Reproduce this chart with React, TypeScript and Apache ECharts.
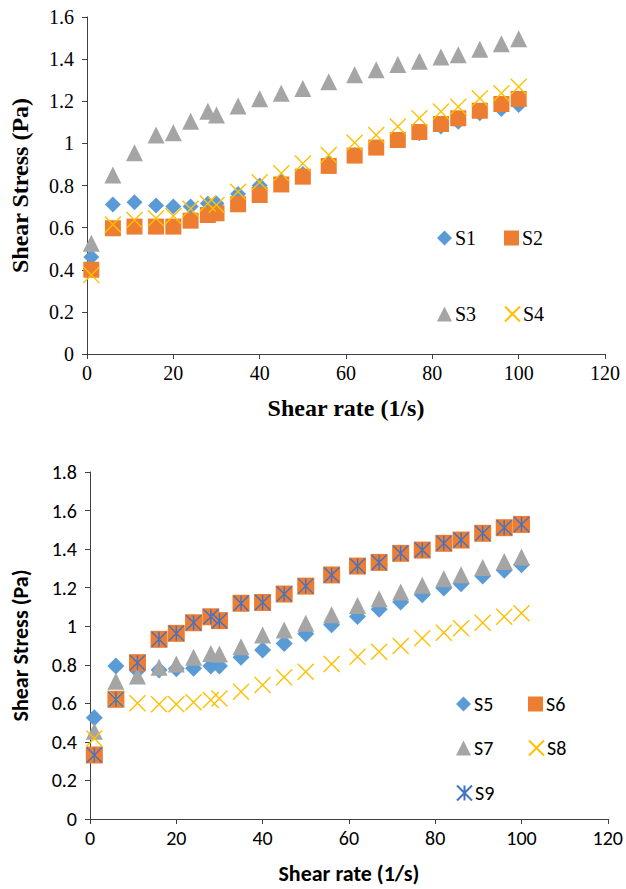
import React, { useEffect, useRef } from "react";
import * as echarts from "echarts";

const shearRate = [1, 6, 11, 16, 20, 24, 28, 30, 35, 40, 45, 50, 56, 62, 67, 72, 77, 82, 86, 91, 96, 100];

const s1 = [0.46, 0.71, 0.72, 0.705, 0.7, 0.7, 0.715, 0.715, 0.76, 0.8, 0.82, 0.855, 0.905, 0.945, 0.98, 1.015, 1.048, 1.08, 1.103, 1.143, 1.163, 1.182];
const s2 = [0.4, 0.597, 0.605, 0.605, 0.605, 0.633, 0.66, 0.668, 0.711, 0.755, 0.805, 0.842, 0.893, 0.942, 0.98, 1.016, 1.054, 1.092, 1.119, 1.155, 1.187, 1.211];
const s3 = [0.526, 0.85, 0.956, 1.04, 1.05, 1.105, 1.152, 1.135, 1.178, 1.212, 1.238, 1.26, 1.293, 1.326, 1.349, 1.374, 1.39, 1.41, 1.421, 1.447, 1.473, 1.497];
const s4 = [0.375, 0.615, 0.636, 0.644, 0.655, 0.69, 0.715, 0.707, 0.77, 0.815, 0.858, 0.905, 0.945, 1.003, 1.04, 1.08, 1.119, 1.151, 1.174, 1.214, 1.238, 1.269];

const s5 = [0.525, 0.794, 0.77, 0.773, 0.78, 0.782, 0.794, 0.794, 0.839, 0.877, 0.911, 0.961, 1.008, 1.051, 1.088, 1.126, 1.163, 1.198, 1.22, 1.26, 1.29, 1.319];
const s6 = [0.332, 0.621, 0.811, 0.932, 0.963, 1.018, 1.049, 1.029, 1.119, 1.123, 1.167, 1.208, 1.266, 1.312, 1.331, 1.378, 1.395, 1.43, 1.447, 1.482, 1.511, 1.528];
const s7 = [0.455, 0.714, 0.742, 0.787, 0.804, 0.839, 0.858, 0.856, 0.894, 0.954, 0.98, 1.015, 1.06, 1.108, 1.143, 1.177, 1.212, 1.246, 1.267, 1.305, 1.336, 1.359];
const s8 = [0.418, 0.625, 0.6, 0.595, 0.595, 0.605, 0.617, 0.625, 0.66, 0.695, 0.735, 0.764, 0.804, 0.842, 0.868, 0.897, 0.937, 0.966, 0.989, 1.018, 1.049, 1.067];
const s9 = [0.332, 0.621, 0.811, 0.932, 0.963, 1.018, 1.049, 1.029, 1.119, 1.123, 1.167, 1.208, 1.266, 1.312, 1.331, 1.378, 1.395, 1.43, 1.447, 1.482, 1.511, 1.528];

const xTitle = "Shear rate (1/s)";
const yTitle = "Shear Stress (Pa)";

const X_PATH = "path://M0,0L10,10M10,0L0,10";
const STAR_PATH = "path://M0,0L10,10M10,0L0,10M5,0L5,10";

const pair = (vals: number[]) => shearRate.map((x, i) => [x, vals[i]]);

export default function App() {
  const ref = useRef<HTMLDivElement>(null);
  useEffect(() => {
    const chart = echarts.init(ref.current!, null, { renderer: "svg" });
    const serif = "Times New Roman";
    const sans = "Carlito";
    const axisCol = "#404040";

    const mkX = (gi: number, font: string, size: number, tsize: number, gap: number) => ({
      type: "value",
      gridIndex: gi,
      min: 0,
      max: 120,
      interval: 20,
      name: xTitle,
      nameLocation: "middle",
      nameGap: gap,
      nameTextStyle: { fontFamily: font, fontWeight: "bold", fontSize: tsize, color: "#000" },
      axisLine: { show: true, onZero: false, lineStyle: { color: axisCol, width: 1 } },
      axisTick: { show: true, length: 5, lineStyle: { color: axisCol } },
      axisLabel: { fontFamily: font, fontSize: size, color: "#000", margin: 9 },
      splitLine: { show: false },
    });
    const mkY = (gi: number, max: number, font: string, size: number, tsize: number, gap: number) => ({
      type: "value",
      gridIndex: gi,
      min: 0,
      max,
      interval: 0.2,
      name: yTitle,
      nameLocation: "middle",
      nameGap: gap,
      nameTextStyle: { fontFamily: font, fontWeight: "bold", fontSize: tsize, color: "#000" },
      axisLine: { show: true, onZero: false, lineStyle: { color: axisCol, width: 1 } },
      axisTick: { show: true, length: 5, lineStyle: { color: axisCol } },
      axisLabel: {
        fontFamily: font,
        fontSize: size,
        color: "#000",
        margin: 13,
        formatter: (v: number) => String(Math.round(v * 10) / 10),
      },
      splitLine: { show: false },
    });

    const sc = (name: string, data: number[], gi: number, symbol: string, size: number, color: string, line = false) => ({
      name,
      type: "scatter",
      xAxisIndex: gi,
      yAxisIndex: gi,
      data: pair(data),
      symbol,
      symbolSize: size,
      itemStyle: line
        ? { color, borderColor: color, borderWidth: 1.4, opacity: 1 }
        : { color, opacity: 1 },
      emphasis: { disabled: true },
    });

    const leg = (name: string, left: number, top: number, font: string, size: number) => ({
      data: [name],
      left,
      top,
      padding: 0,
      itemWidth: 15,
      itemHeight: 15,
      itemGap: 0,
      selectedMode: false,
      textStyle: { fontFamily: font, fontSize: size, color: "#000", padding: [0, 0, 0, -2] },
    });

    chart.setOption({
      animation: false,
      backgroundColor: "#fff",
      grid: [
        { left: 86, top: 17, width: 519, height: 337 },
        { left: 90, top: 472, width: 521, height: 347 },
      ],
      xAxis: [mkX(0, serif, 20, 24, 42), mkX(1, sans, 20, 22, 43)],
      yAxis: [mkY(0, 1.6, serif, 20, 24, 55), mkY(1, 1.8, sans, 20, 22, 59)],
      legend: [
        leg("S1", 437, 228, serif, 20),
        leg("S2", 504, 228, serif, 20),
        leg("S3", 437, 304, serif, 20),
        leg("S4", 504, 304, serif, 20),
        leg("S5", 456, 694, sans, 20),
        leg("S6", 528, 694, sans, 20),
        leg("S7", 456, 738, sans, 20),
        leg("S8", 528, 738, sans, 20),
        leg("S9", 456, 783, sans, 20),
      ],
      series: [
        sc("S1", s1, 0, "diamond", 16, "#5B9BD5"),
        sc("S2", s2, 0, "rect", 16, "#ED7D31"),
        sc("S3", s3, 0, "triangle", 17, "#A5A5A5"),
        sc("S4", s4, 0, X_PATH, 16, "#FFC000", true),
        sc("S5", s5, 1, "diamond", 17, "#5B9BD5"),
        sc("S6", s6, 1, "rect", 17, "#ED7D31"),
        sc("S7", s7, 1, "triangle", 17, "#A5A5A5"),
        sc("S8", s8, 1, X_PATH, 16, "#FFC000", true),
        sc("S9", s9, 1, STAR_PATH, 15, "#4472C4", true),
      ],
    });
    return () => chart.dispose();
  }, []);
  return (
    <div
      ref={ref}
      style={{ position: "absolute", left: 0, top: 0, width: 626, height: 889 }}
    />
  );
}
